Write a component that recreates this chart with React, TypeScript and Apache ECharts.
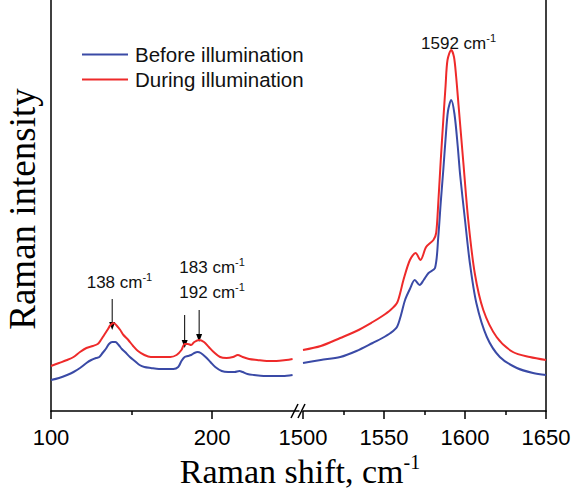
import React, { useEffect, useRef } from "react";
import * as echarts from "echarts";

// Left panel (100–254 cm-1)
const beforeLeftShift = [100, 105, 110, 114, 118, 122, 125, 128, 130, 132, 134, 136, 138, 140, 142, 144, 146, 149, 152, 155, 158, 162, 167, 172, 176, 179, 181, 183, 185, 187, 189, 191, 193, 196, 199, 202, 206, 210, 214, 217, 219, 222, 226, 232, 238, 244, 250];
const beforeLeftIntensity = [31, 33, 36, 39, 43, 48, 51, 53, 54, 58, 62, 67, 69, 69, 66, 62, 59, 54, 50, 46, 44, 43, 42, 42, 42, 44, 50, 54, 55, 56, 58, 59, 58, 54, 49, 44, 40, 39, 39, 40, 39, 37, 36, 35, 35, 35, 36];
const duringLeftShift = [100, 105, 110, 114, 118, 122, 126, 129, 131, 133, 135, 137, 139, 141, 143, 145, 148, 151, 154, 158, 162, 168, 174, 178, 181, 183, 185, 187, 189, 192, 195, 198, 201, 205, 209, 213, 216, 219, 223, 228, 234, 240, 246, 250];
const duringLeftIntensity = [45, 48, 51, 54, 59, 63, 65, 67, 71, 76, 81, 86, 88, 85, 81, 76, 71, 65, 60, 56, 54, 54, 54, 56, 61, 67, 67, 66, 69, 71, 69, 64, 59, 54, 53, 54, 56, 54, 52, 51, 50, 50, 51, 52];

// Right panel (1500–1650 cm-1)
const beforeRightShift = [1500, 1511, 1523, 1533, 1543, 1549, 1554, 1558, 1560.5, 1563, 1566, 1569, 1572, 1574.5, 1577.5, 1581.5, 1583.5, 1585, 1586.6, 1588, 1589.5, 1591.5, 1593.5, 1595.5, 1597, 1600, 1603, 1607, 1613.5, 1621.5, 1632, 1642, 1650];
const beforeRightIntensity = [48, 51, 54, 60, 68, 73, 78, 84, 96, 111, 122, 131, 126, 131, 138, 143, 174, 208, 241, 272, 300, 311, 297, 265, 236, 191, 148, 108, 74, 54, 43, 38, 36];
const duringRightShift = [1500, 1511, 1523, 1533, 1543, 1549, 1554, 1558, 1560, 1562, 1566, 1569.5, 1572.5, 1576, 1580.5, 1582.2, 1583.5, 1585, 1586.6, 1588, 1589.2, 1591.5, 1593.2, 1594.5, 1596, 1599, 1602, 1606, 1611.3, 1619.5, 1629.6, 1640, 1650];
const duringRightIntensity = [61, 65, 73, 80, 89, 95, 101, 108, 118, 131, 151, 158, 151, 164, 171, 178, 208, 250, 291, 325, 351, 361, 354, 335, 306, 248, 191, 138, 101, 74, 59, 54, 51];

const leftTicks = [100, 200];
const leftMinorTicks = [150];
const rightTicks = [1500, 1550, 1600, 1650];
const rightMinorTicks = [1525, 1575, 1625];

const seriesNames = ["Before illumination", "During illumination"];
const peakLabels = [
  { panel: 0, text: "138 cm", x: 142.5, y: 129 },
  { panel: 0, text: "183 cm", x: 200, y: 144 },
  { panel: 0, text: "192 cm", x: 200, y: 119 },
  { panel: 1, text: "1592 cm", x: 1596, y: 368 },
];
const arrows = [
  { x: 138, from: 112, to: 81 },
  { x: 183, from: 96, to: 63 },
  { x: 192, from: 101, to: 69 },
];

const BLUE = "#3a4aa6";
const RED = "#ee2a2a";
const SANS = "Liberation Sans, Arial, sans-serif";
const SERIF = "Liberation Serif, Times New Roman, serif";

const zip = (xs: number[], ys: number[]) => xs.map((x, i) => [x, ys[i]]);

export default function App() {
  const ref = useRef<HTMLDivElement>(null);
  useEffect(() => {
    document.body.style.margin = "0";
    if (!ref.current) return;
    const chart = echarts.init(ref.current, undefined, { renderer: "svg" });
    const axisLine = { show: true, lineStyle: { color: "#000", width: 1.5 } };
    const xCommon = (grid: number, min: number, max: number) => ({
      type: "value",
      gridIndex: grid,
      min,
      max,
      position: "bottom",
      splitLine: { show: false },
    });
    const labelStyle = { show: true, margin: 15, fontSize: 22, fontFamily: SANS, color: "#000", formatter: (v: number) => String(v) };
    const option: any = {
      animation: false,
      backgroundColor: "#fff",
      grid: [
        { left: 51, top: 0, width: 248, height: 411 },
        { left: 303, top: 0, width: 243, height: 411 },
      ],
      xAxis: [
        {
          ...xCommon(0, 100, 254),
          axisLine,
          axisTick: { show: true, customValues: leftTicks, length: 8, lineStyle: { color: "#000", width: 1.5 } },
          axisLabel: { ...labelStyle, customValues: leftTicks },
        },
        {
          ...xCommon(1, 1500, 1650),
          axisLine,
          axisTick: { show: true, customValues: rightTicks, length: 8, lineStyle: { color: "#000", width: 1.5 } },
          axisLabel: { ...labelStyle, customValues: rightTicks },
        },
        {
          ...xCommon(0, 100, 254),
          axisLine: { show: false },
          axisTick: { show: true, customValues: leftMinorTicks, length: 4, lineStyle: { color: "#000", width: 1.5 } },
          axisLabel: { show: false },
        },
        {
          ...xCommon(1, 1500, 1650),
          axisLine: { show: false },
          axisTick: { show: true, customValues: rightMinorTicks, length: 4, lineStyle: { color: "#000", width: 1.5 } },
          axisLabel: { show: false },
        },
      ],
      yAxis: [
        { type: "value", gridIndex: 0, min: 0, max: 411, position: "left", axisLine, axisTick: { show: false }, axisLabel: { show: false }, splitLine: { show: false } },
        { type: "value", gridIndex: 1, min: 0, max: 411, position: "right", axisLine, axisTick: { show: false }, axisLabel: { show: false }, splitLine: { show: false } },
      ],
      legend: {
        data: seriesNames,
        orient: "vertical",
        left: 77,
        top: 39,
        icon: "rect",
        itemWidth: 46,
        itemHeight: 2,
        itemGap: 4,
        textStyle: { fontSize: 20.5, fontFamily: SANS, color: "#111", lineHeight: 20, padding: [0, 0, 0, 2] },
      },
      series: [
        { name: seriesNames[0], type: "line", xAxisIndex: 0, yAxisIndex: 0, data: zip(beforeLeftShift, beforeLeftIntensity), showSymbol: false, smooth: 0.3, lineStyle: { color: BLUE, width: 2 }, itemStyle: { color: BLUE } },
        { name: seriesNames[0], type: "line", xAxisIndex: 1, yAxisIndex: 1, data: zip(beforeRightShift, beforeRightIntensity), showSymbol: false, smooth: 0.3, lineStyle: { color: BLUE, width: 2 }, itemStyle: { color: BLUE } },
        { name: seriesNames[1], type: "line", xAxisIndex: 0, yAxisIndex: 0, data: zip(duringLeftShift, duringLeftIntensity), showSymbol: false, smooth: 0.3, lineStyle: { color: RED, width: 2 }, itemStyle: { color: RED } },
        { name: seriesNames[1], type: "line", xAxisIndex: 1, yAxisIndex: 1, data: zip(duringRightShift, duringRightIntensity), showSymbol: false, smooth: 0.3, lineStyle: { color: RED, width: 2 }, itemStyle: { color: RED } },
      ],
    };
    chart.setOption(option);

    const px = (g: number, x: number, y: number) => chart.convertToPixel({ gridIndex: g } as any, [x, y]) as number[];
    const graphics: any[] = [];
    peakLabels.forEach((l) => {
      const p = px(l.panel, l.x, l.y);
      graphics.push({
        type: "text",
        x: p[0],
        y: p[1],
        style: {
          text: `{b|${l.text}}{s|-1}`,
          align: "center",
          verticalAlign: "middle",
          rich: {
            b: { fontSize: 17, fontFamily: SANS, fill: "#111", lineHeight: 21 },
            s: { fontSize: 11, fontFamily: SANS, fill: "#111", lineHeight: 12, verticalAlign: "top" },
          },
        },
      });
    });
    arrows.forEach((a) => {
      const p1 = px(0, a.x, a.from);
      const p2 = px(0, a.x, a.to);
      graphics.push({ type: "line", shape: { x1: p1[0], y1: p1[1], x2: p2[0], y2: p2[1] - 6 }, style: { stroke: "#000", lineWidth: 1 } });
      graphics.push({ type: "polygon", shape: { points: [[p2[0] - 3, p2[1] - 8], [p2[0] + 3, p2[1] - 8], [p2[0], p2[1]]] }, style: { fill: "#000" } });
    });
    // axis break marks
    graphics.push({ type: "line", shape: { x1: 291, y1: 418, x2: 298, y2: 404 }, style: { stroke: "#000", lineWidth: 1.5 } });
    graphics.push({ type: "line", shape: { x1: 298, y1: 418, x2: 305, y2: 404 }, style: { stroke: "#000", lineWidth: 1.5 } });
    // axis titles
    graphics.push({
      type: "text",
      x: 300,
      y: 471,
      style: {
        text: "{b|Raman shift, cm}{s|-1}",
        align: "center",
        verticalAlign: "middle",
        rich: {
          b: { fontSize: 34, fontFamily: SERIF, fill: "#000", lineHeight: 38 },
          s: { fontSize: 20, fontFamily: SERIF, fill: "#000", lineHeight: 22, verticalAlign: "top" },
        },
      },
    });
    graphics.push({
      type: "text",
      x: 22,
      y: 209,
      rotation: Math.PI / 2,
      style: { text: "Raman intensity", fontSize: 37, fontFamily: SERIF, fill: "#000", align: "center", verticalAlign: "middle" },
    });
    chart.setOption({ graphic: graphics });
    return () => chart.dispose();
  }, []);
  return <div ref={ref} style={{ width: 576, height: 492 }} />;
}
